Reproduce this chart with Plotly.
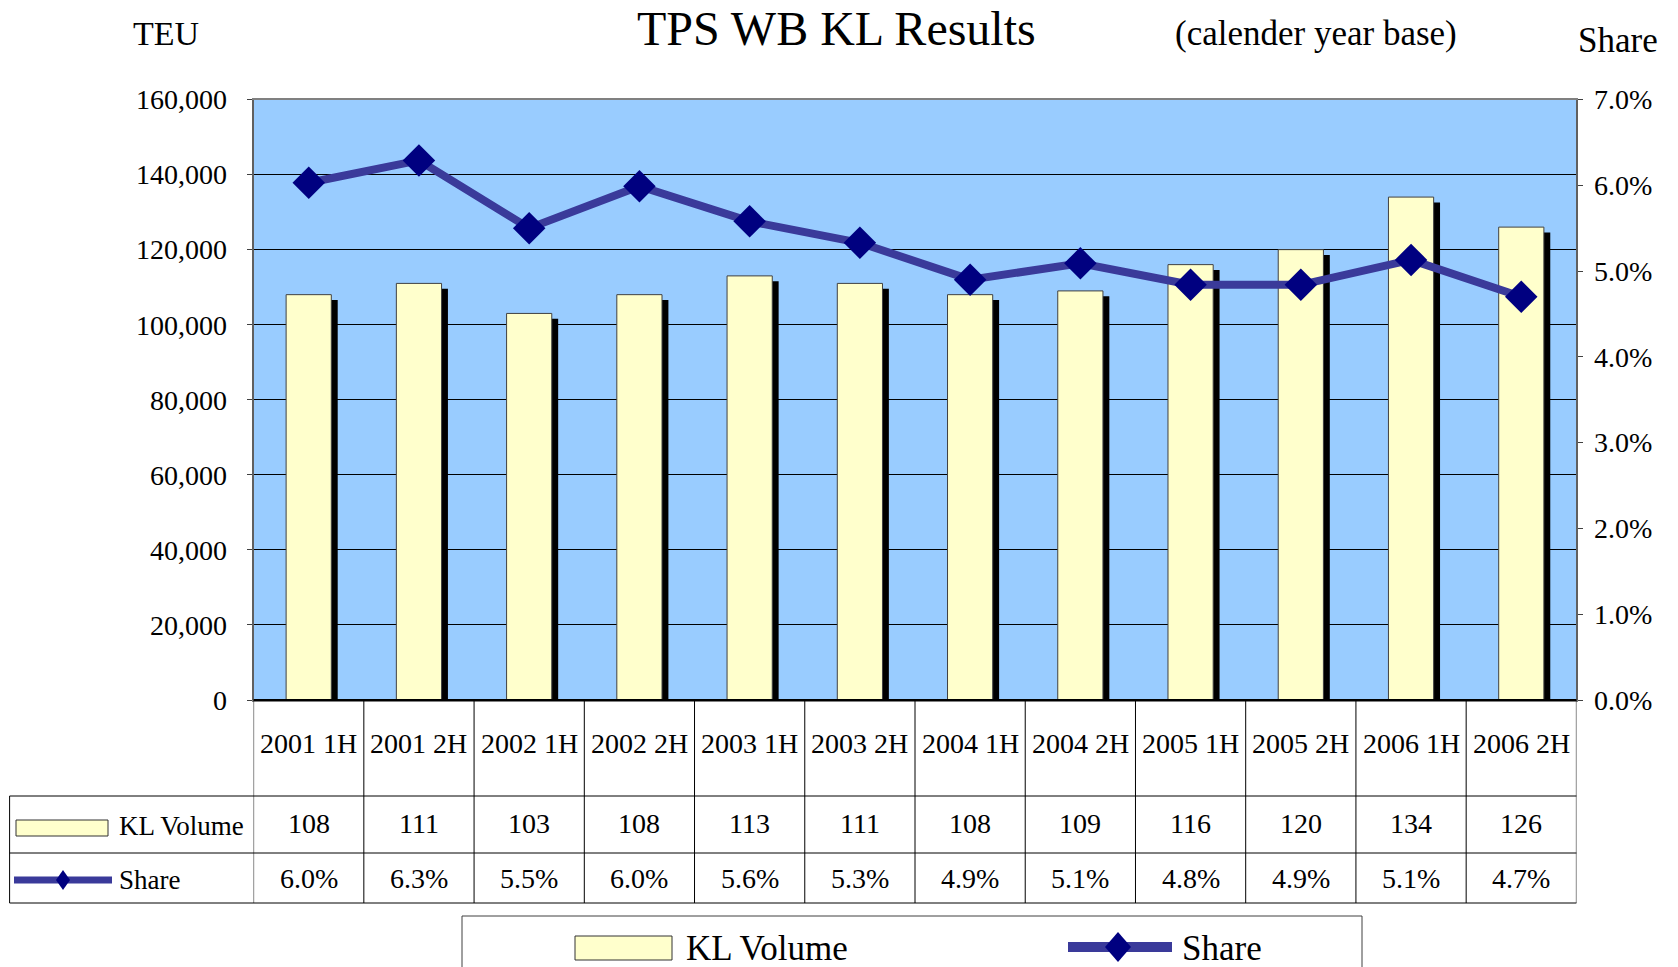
import plotly.graph_objects as go

# ---------------- data ----------------
categories = ["2001 1H", "2001 2H", "2002 1H", "2002 2H", "2003 1H", "2003 2H",
              "2004 1H", "2004 2H", "2005 1H", "2005 2H", "2006 1H", "2006 2H"]
kl_volume = [108000, 111000, 103000, 108000, 113000, 111000,
             108000, 109000, 116000, 120000, 134000, 126000]
share_pct = [6.03, 6.29, 5.50, 5.99, 5.58, 5.33, 4.90, 5.09, 4.84, 4.84, 5.13, 4.70]
share_labels = ["6.0%", "6.3%", "5.5%", "6.0%", "5.6%", "5.3%",
                "4.9%", "5.1%", "4.8%", "4.9%", "5.1%", "4.7%"]
volume_labels = [str(round(v / 1000)) for v in kl_volume]
y_ticks = [0, 20000, 40000, 60000, 80000, 100000, 120000, 140000, 160000]
y2_ticks = [0, 1, 2, 3, 4, 5, 6, 7]
y2_ticktext = [f"{v:.1f}%" for v in y2_ticks]

# ---------------- layout geometry (pixels) ----------------
W, H = 1678, 967
L, R, T, B = 253.6, 1576.4, 99.5, 700.0
ROW1, ROW2, ROW3 = 796.0, 853.0, 903.0
TABLE_LEFT = 9.6
FONT = "Liberation Serif"


def fx(px):
    return px / W


def fy(py):
    return 1 - py / H


plot_h = B - T
shadow_dy = 5.3 * y_ticks[-1] / plot_h
BAR_W = 0.41
SHADOW_DX = 0.058

BAR_FILL = "#ffffcc"
LINE_COLOR = "#3a3a9a"
MARKER_COLOR = "#000080"

fig = go.Figure()

# shadows
fig.add_trace(go.Bar(
    x=categories, y=[v - shadow_dy for v in kl_volume],
    width=BAR_W, offset=-BAR_W / 2 + SHADOW_DX,
    marker=dict(color="black", line=dict(width=0)),
    showlegend=False, hoverinfo="skip"))
# bars
fig.add_trace(go.Bar(
    x=categories, y=kl_volume, width=BAR_W, offset=-BAR_W / 2,
    marker=dict(color=BAR_FILL, line=dict(color="#404040", width=1)),
    name="KL Volume", showlegend=False))
# share line
fig.add_trace(go.Scatter(
    x=categories, y=share_pct, yaxis="y2", mode="lines+markers",
    line=dict(color=LINE_COLOR, width=8),
    marker=dict(symbol="diamond", size=25, color=MARKER_COLOR),
    name="Share", showlegend=False))

shapes = []
# plot bottom / table top line
shapes.append(dict(type="line", xref="paper", yref="paper",
                   x0=fx(L), x1=fx(R), y0=fy(B), y1=fy(B),
                   line=dict(color="black", width=2)))
# column boundaries
for i in range(len(categories) + 1):
    shapes.append(dict(type="line", xref="x", yref="paper",
                       x0=i - 0.5, x1=i - 0.5, y0=fy(B), y1=fy(ROW3),
                       line=dict(color="black", width=1)))
# row lines
for ry in (ROW1, ROW2, ROW3):
    shapes.append(dict(type="line", xref="paper", yref="paper",
                       x0=fx(TABLE_LEFT), x1=fx(R), y0=fy(ry), y1=fy(ry),
                       line=dict(color="black", width=1)))
shapes.append(dict(type="line", xref="paper", yref="paper",
                   x0=fx(TABLE_LEFT), x1=fx(TABLE_LEFT), y0=fy(ROW1), y1=fy(ROW3),
                   line=dict(color="black", width=1)))


def diamond(cx, cy, hw, hh):
    return (f"M {fx(cx - hw)} {fy(cy)} L {fx(cx)} {fy(cy - hh)} "
            f"L {fx(cx + hw)} {fy(cy)} L {fx(cx)} {fy(cy + hh)} Z")


# table legend keys
shapes.append(dict(type="rect", xref="paper", yref="paper",
                   x0=fx(16), x1=fx(108), y0=fy(820), y1=fy(836),
                   fillcolor=BAR_FILL, line=dict(color="#333333", width=1)))
shapes.append(dict(type="line", xref="paper", yref="paper",
                   x0=fx(14), x1=fx(112), y0=fy(880), y1=fy(880),
                   line=dict(color=LINE_COLOR, width=7)))
shapes.append(dict(type="path", xref="paper", yref="paper",
                   path=diamond(63, 880, 7, 10), fillcolor=MARKER_COLOR,
                   line=dict(width=0)))

# bottom legend
shapes.append(dict(type="rect", xref="paper", yref="paper",
                   x0=fx(462), x1=fx(1362), y0=fy(916), y1=fy(980),
                   line=dict(color="#404040", width=1)))
shapes.append(dict(type="rect", xref="paper", yref="paper",
                   x0=fx(575), x1=fx(672), y0=fy(936), y1=fy(960),
                   fillcolor=BAR_FILL, line=dict(color="#333333", width=1)))
shapes.append(dict(type="line", xref="paper", yref="paper",
                   x0=fx(1068), x1=fx(1172), y0=fy(947), y1=fy(947),
                   line=dict(color=LINE_COLOR, width=10)))
shapes.append(dict(type="path", xref="paper", yref="paper",
                   path=diamond(1118, 947, 13, 15), fillcolor=MARKER_COLOR,
                   line=dict(width=0)))

annotations = []


def txt(text, x, y, size, xanchor="center", xref="paper"):
    annotations.append(dict(text=text, x=x, y=y, xref=xref, yref="paper",
                            xanchor=xanchor, yanchor="middle", showarrow=False,
                            font=dict(family=FONT, size=size, color="black")))


txt("TPS WB KL Results", fx(836), fy(28), 48)
txt("TEU", fx(166), fy(33), 34)
txt("(calender year base)", fx(1316), fy(33), 35)
txt("Share", fx(1618), fy(40), 35)

for i, c in enumerate(categories):
    txt(c, i, fy(743), 28, xref="x")
    txt(volume_labels[i], i, fy(823), 28, xref="x")
    txt(share_labels[i], i, fy(878), 28, xref="x")

txt("KL Volume", fx(117), fy(826), 27, xanchor="left")
txt("Share", fx(117), fy(880), 27, xanchor="left")
txt("KL Volume", fx(684), fy(948), 35, xanchor="left")
txt("Share", fx(1180), fy(948), 35, xanchor="left")

fig.update_layout(
    width=W, height=H,
    margin=dict(l=0, r=0, t=0, b=0),
    paper_bgcolor="white", plot_bgcolor="#99ccff",
    barmode="overlay", showlegend=False,
    font=dict(family=FONT, size=28, color="black"),
    xaxis=dict(domain=[fx(L), fx(R)], type="category",
               range=[-0.5, len(categories) - 0.5],
               showticklabels=False, ticks="", showgrid=False,
               showline=True, linecolor="#808080", linewidth=2, mirror=True,
               automargin=False),
    yaxis=dict(domain=[fy(B), fy(T)], range=[0, y_ticks[-1]],
               tickvals=y_ticks, tickformat=",d",
               showgrid=True, gridcolor="black", gridwidth=1,
               zeroline=False, showline=True, linecolor="#606060", linewidth=2,
               ticks="outside", ticklen=5, tickcolor="#404040",
               ticklabelstandoff=14,
               tickfont=dict(family=FONT, size=28, color="black"),
               automargin=False),
    yaxis2=dict(overlaying="y", side="right", range=[0, y2_ticks[-1]],
                tickvals=y2_ticks, ticktext=y2_ticktext, tickmode="array",
                showgrid=False, zeroline=False,
                showline=True, linecolor="#606060", linewidth=2,
                ticks="outside", ticklen=5, tickcolor="#404040",
                ticklabelstandoff=5,
                tickfont=dict(family=FONT, size=28, color="black"),
                automargin=False),
    shapes=shapes, annotations=annotations,
)

fig.write_html("out.html",
               config={"displayModeBar": False},
               post_script="document.body.style.margin='0px';"
                           "document.body.style.overflow='hidden';")
